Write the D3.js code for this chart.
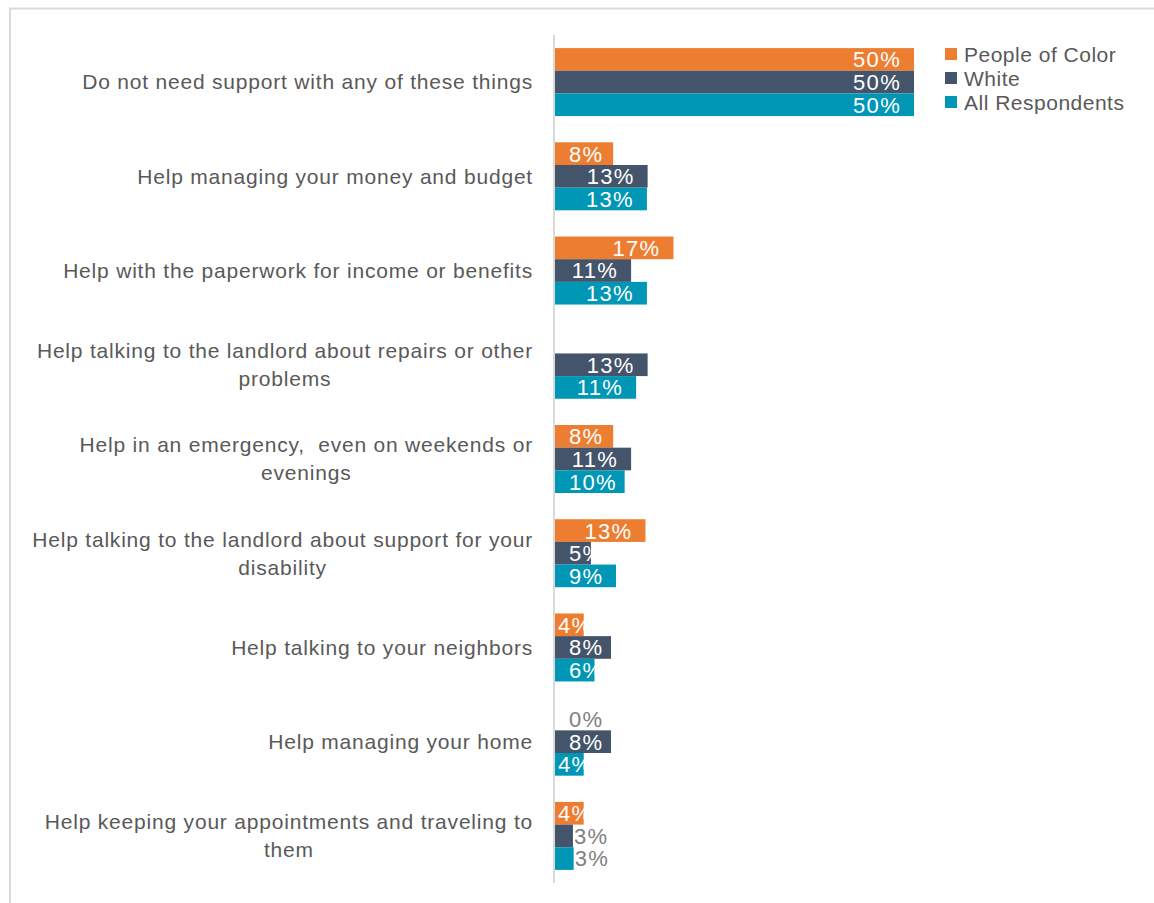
<!DOCTYPE html>
<html>
<head>
<meta charset="utf-8">
<script src="https://cdn.jsdelivr.net/npm/d3@7"></script>
<style>
  body { margin: 0; background: #fff; }
  svg text { font-family: "Liberation Sans", Arial, sans-serif; }
</style>
</head>
<body>
<div id="chart"></div>
<script>
// categories (line breaks as in the original)
var categories = [
  "Do not need support with any of these things",
  "Help managing your money and budget",
  "Help with the paperwork for income or benefits",
  "Help talking to the landlord about repairs or other\nproblems",
  "Help in an emergency,  even on weekends or\nevenings",
  "Help talking to the landlord about support for your\ndisability",
  "Help talking to your neighbors",
  "Help managing your home",
  "Help keeping your appointments and traveling to\nthem"
];

var seriesNames = ["People of Color", "White", "All Respondents"];
var seriesColors = ["#ED7D31", "#44546A", "#0096B6"];

// values (null = no bar / no label)
var peopleOfColor = [0.50, 0.081, 0.165, null, 0.081, 0.126, 0.040, 0, 0.040];
var white         = [0.50, 0.129, 0.106, 0.129, 0.106, 0.050, 0.078, 0.078, 0.025];
var allResp       = [0.50, 0.128, 0.128, 0.113, 0.097, 0.085, 0.055, 0.040, 0.026];

var series = [peopleOfColor, white, allResp];

var W = 1154, H = 903;
var svg = d3.select("#chart").append("svg")
  .attr("width", W)
  .attr("height", H);

// chart frame
svg.append("rect")
  .attr("x", 10).attr("y", 8.5)
  .attr("width", W + 20).attr("height", H + 20)
  .attr("fill", "none")
  .attr("stroke", "#d9d9d9")
  .attr("stroke-width", 2);

var x = d3.scaleLinear().domain([0, 0.5]).range([555, 914]);

var y = d3.scaleBand()
  .domain(categories)
  .range([35, 883])
  .paddingInner(0.2785)
  .paddingOuter(0.139);

var ySub = d3.scaleBand()
  .domain(d3.range(seriesNames.length))
  .range([0, y.bandwidth()]);

var fmt = d3.format(".0%");

// bars + labels
var groups = svg.selectAll(".grp")
  .data(categories)
  .enter().append("g")
    .attr("class", "grp")
    .attr("transform", d => "translate(0," + y(d) + ")");

groups.each(function(cat, i) {
  let g = d3.select(this);
  series.forEach(function(vals, s) {
    let v = vals[i];
    if (v === null) return;
    let y0 = ySub(s), h = ySub.bandwidth();
    if (v > 0) {
      g.append("rect")
        .attr("x", x(0))
        .attr("y", y0)
        .attr("width", x(v) - x(0))
        .attr("height", h)
        .attr("fill", seriesColors[s]);
    }
    // small values get a grey label outside the bar
    let outside = v < 0.035;
    let t = g.append("text")
      .attr("y", y0 + h / 2)
      .attr("dy", "0.36em")
      .style("font-size", "22px")
      .style("letter-spacing", "1.3px")
      .text(fmt(v));
    if (outside) {
      t.attr("x", Math.max(x(v) + 1, x(0) + 14))
        .attr("fill", "#808080");
    } else {
      let tw = t.node().getComputedTextLength();
      let bw = x(v) - x(0);
      let tx = bw < 32 ? x(0) + 3 : Math.max(x(v) - 13 - tw, x(0) + 14);
      t.attr("x", tx).attr("fill", "#fff");
    }
  });
});

// axis line
svg.append("line")
  .attr("x1", 554).attr("x2", 554)
  .attr("y1", y.range()[0]).attr("y2", y.range()[1])
  .attr("stroke", "#d9d9d9")
  .attr("stroke-width", 2);

// category labels, centred block aligned to the right
svg.selectAll(".cat")
  .data(categories)
  .enter().append("text")
    .attr("class", "cat")
    .attr("fill", "#595959")
    .style("font-size", "21px")
    .style("letter-spacing", "0.8px")
    .style("white-space", "pre")
    .each(function(d) {
      let self = d3.select(this);
      let lines = d.split("\n");
      let cy = y(d) + y.bandwidth() / 2;
      let lh = 28;
      let tspans = lines.map(function(line, k) {
        return self.append("tspan")
          .attr("y", cy + (k - (lines.length - 1) / 2) * lh)
          .attr("dy", "0.35em")
          .text(line);
      });
      let widths = tspans.map(ts => ts.node().getComputedTextLength());
      let maxW = d3.max(widths);
      tspans.forEach(function(ts, k) {
        ts.attr("x", 533 - maxW + (maxW - widths[k]) / 2);
      });
    });

// legend
var legend = svg.selectAll(".leg")
  .data(seriesNames)
  .enter().append("g")
    .attr("class", "leg")
    .attr("transform", (d, i) => "translate(945," + (54 + i * 24) + ")");

legend.append("rect")
  .attr("x", 0).attr("y", -6)
  .attr("width", 12).attr("height", 12)
  .attr("fill", (d, i) => seriesColors[i]);

legend.append("text")
  .attr("x", 19)
  .attr("dy", "0.36em")
  .attr("fill", "#595959")
  .style("font-size", "21px")
  .style("letter-spacing", "0.5px")
  .text(d => d);
</script>
</body>
</html>
